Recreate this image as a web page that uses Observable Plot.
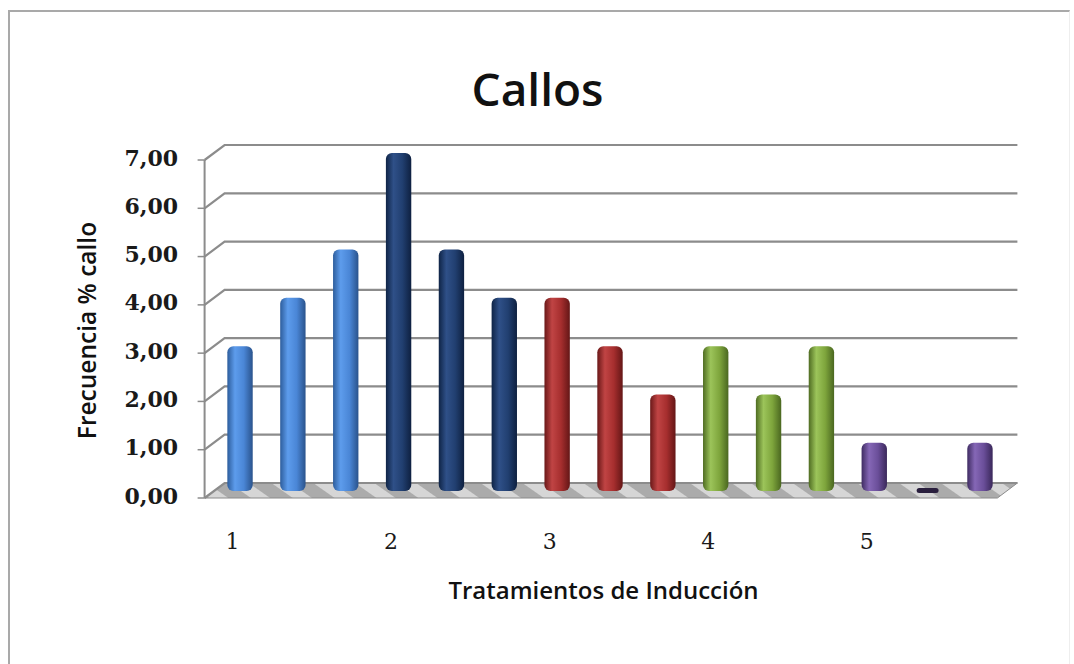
<!DOCTYPE html>
<html><head><meta charset="utf-8">
<script src="https://cdn.jsdelivr.net/npm/d3@7"></script>
<script src="https://cdn.jsdelivr.net/npm/@observablehq/plot@0.6"></script>
<style>
html,body{margin:0;padding:0;background:#fff;}
#wrap{position:relative;width:1074px;height:664px;overflow:hidden;background:#fff;}
#border{position:absolute;left:8px;top:10px;width:1062px;height:670px;border-top:2px solid #a9a9a9;border-left:2px solid #a9a9a9;border-right:1px solid #eeeeee;box-sizing:border-box;pointer-events:none}
#chart{position:absolute;left:0;top:0;}
</style></head><body>
<div id="wrap"><div id="chart"></div><div id="border"></div></div>
<script>
// ---- data ----
const title = "Callos";
const xLabel = "Tratamientos de Inducción";
const yLabel = "Frecuencia % callo";
const treatments = ["1", "2", "3", "4", "5"];
const values = [3, 4, 5, 7, 5, 4, 4, 3, 2, 3, 2, 3, 1, 0, 1];
const yTicks = [0, 1, 2, 3, 4, 5, 6, 7];
const yTickLabels = ["0,00", "1,00", "2,00", "3,00", "4,00", "5,00", "6,00", "7,00"];

// ---- derived tables ----
const perGroup = values.length / treatments.length;
const bars = values.map((v, i) => ({pos: i + 1, value: v, treatment: treatments[Math.floor(i / perGroup)]}));
const xTickData = treatments.map(t => ({pos: bars.find(b => b.treatment === t).pos, label: t}));
const yTickData = yTicks.map((t, i) => ({v: t, label: yTickLabels[i]}));

// ---- styles ----
const palettes = [
  ["#2d5d9c", "#5d9cec", "#4a86d6", "#2a538c"],
  ["#0f2446", "#2f5088", "#213f70", "#0e2040"],
  ["#6a1818", "#c04444", "#a62e2e", "#641616"],
  ["#4f6c22", "#9cc45a", "#7ea53c", "#4a6720"],
  ["#3f2c62", "#8567b6", "#6a4e99", "#3a285a"]
];
const DX = 20;
const BACK = -8, FRONT = 7;

function decor(index, scales) {
  const x = scales.x, y = scales.y;
  const g = d3.create("svg:g");
  const xF = x(0.5) - 9;          // front axis
  const xBR = x(15.5) + 11;       // back right end
  const y0 = y(0);
  // floor
  g.append("path")
    .attr("d", `M${xF},${y0 + FRONT}L${xF + DX},${y0 + BACK}L${xBR},${y0 + BACK}L${xBR - DX},${y0 + FRONT}Z`)
    .attr("fill", "url(#floorPat)").attr("stroke", "#8a8a8a").attr("stroke-width", 1);
  // grid lines (back wall + side slant) and ticks
  for (const t of yTicks) {
    const yb = y(t) + BACK, yf = y(t) + FRONT;
    g.append("path")
      .attr("d", `M${xF},${yf}L${xF + DX},${yb}L${xBR},${yb}`)
      .attr("fill", "none").attr("stroke", "#8c8c8c").attr("stroke-width", 2.2);
    g.append("line")
      .attr("x1", xF - 7).attr("x2", xF).attr("y1", yf).attr("y2", yf)
      .attr("stroke", "#8c8c8c").attr("stroke-width", 1.5);
  }
  // front axis line
  g.append("line")
    .attr("x1", xF).attr("x2", xF).attr("y1", y(7) + FRONT).attr("y2", y0 + FRONT)
    .attr("stroke", "#8c8c8c").attr("stroke-width", 2);
  return g.node();
}

const barMarks = treatments.map((t, k) =>
  Plot.rectY(bars.filter(b => b.treatment === t && b.value > 0), {
    x1: d => d.pos - 0.24,
    x2: d => d.pos + 0.24,
    y1: () => 0,
    y2: "value",
    fill: `url(#barGrad${k})`,
    rx: 6
  })
);

const plot = Plot.plot({
  width: 1074,
  height: 664,
  marginTop: 153,
  marginBottom: 173,
  marginLeft: 213.6,
  marginRight: 67.6,
  x: {domain: [0.5, 15.5], axis: null},
  y: {domain: [0, 7], axis: null},
  style: {background: "transparent", overflow: "visible"},
  marks: [
    decor,
    ...barMarks,
    Plot.link(bars.filter(b => b.value === 0), {
      x1: d => d.pos - 0.16, x2: d => d.pos + 0.16, y1: () => 0, y2: () => 0,
      stroke: "#2a1f3e", strokeWidth: 5, strokeLinecap: "round", dy: -1
    }),
    Plot.text(yTickData, {
      y: "v", text: "label", frameAnchor: "left", textAnchor: "end",
      dx: -36, dy: FRONT - 2, fontFamily: "DejaVu Serif", fontWeight: "bold", fontSize: 22, fill: "#1a1a1a"
    }),
    Plot.text(xTickData, {
      x: "pos", text: "label", frameAnchor: "bottom", dx: -8, dy: 57,
      fontFamily: "DejaVu Serif", fontSize: 22, fill: "#1a1a1a"
    }),
    Plot.text([yLabel], {
      text: d => d, frameAnchor: "left", textAnchor: "middle", rotate: -90, dx: -126, dy: 8,
      fontFamily: "Open Sans", fontWeight: 600, fontSize: 24.5, fill: "#111"
    }),
    Plot.text([xLabel], {
      text: d => d, frameAnchor: "bottom", dx: -7, dy: 107,
      fontFamily: "Open Sans", fontWeight: 600, fontSize: 24, fill: "#111"
    }),
    Plot.text([title], {
      text: d => d, frameAnchor: "top", dx: -73, dy: -80,
      fontFamily: "Open Sans", fontWeight: 600, fontSize: 46, fill: "#111"
    })
  ]
});

// gradient / pattern definitions used by the marks
const defs = d3.select(plot).insert("defs", ":first-child");
palettes.forEach((p, k) => {
  const lg = defs.append("linearGradient").attr("id", `barGrad${k}`).attr("x1", 0).attr("x2", 1).attr("y1", 0).attr("y2", 0);
  lg.append("stop").attr("offset", "0%").attr("stop-color", p[0]);
  lg.append("stop").attr("offset", "30%").attr("stop-color", p[1]);
  lg.append("stop").attr("offset", "65%").attr("stop-color", p[2]);
  lg.append("stop").attr("offset", "100%").attr("stop-color", p[3]);
});
const pat = defs.append("pattern").attr("id", "floorPat").attr("patternUnits", "userSpaceOnUse")
  .attr("width", 24).attr("height", 24).attr("patternTransform", "rotate(-55)");
pat.append("rect").attr("width", 24).attr("height", 24).attr("fill", "#ababab");
pat.append("rect").attr("width", 11).attr("height", 24).attr("fill", "#d6d6d6");

document.getElementById("chart").appendChild(plot);
</script>
</body></html>
